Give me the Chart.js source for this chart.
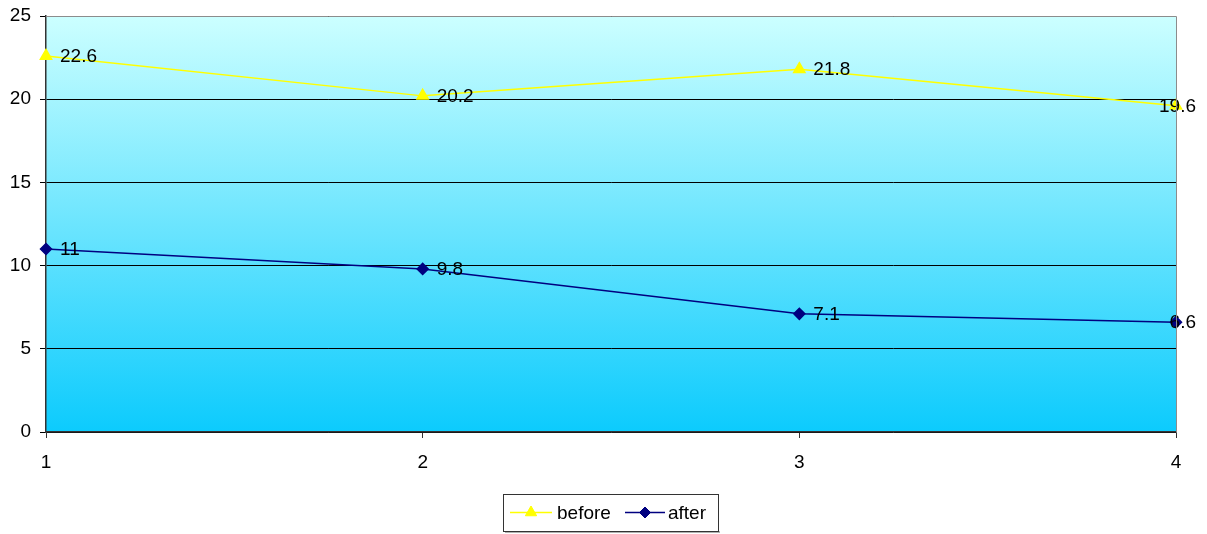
<!DOCTYPE html>
<html>
<head>
<meta charset="utf-8">
<script src="https://cdn.jsdelivr.net/npm/chart.js@4/dist/chart.umd.min.js"></script>
<style>
  html, body { margin: 0; padding: 0; background: #ffffff; }
  #wrap { width: 1207px; height: 534px; position: relative; }
</style>
</head>
<body>
<div id="wrap"><canvas id="c" width="1207" height="534"></canvas></div>
<script>
// Categories and series
const categories = ['1', '2', '3', '4'];
const beforeValues = [22.6, 20.2, 21.8, 19.6];
const afterValues = [11, 9.8, 7.1, 6.6];
const yTicks = [0, 5, 10, 15, 20, 25];

const FONT = '"Liberation Sans", Arial, sans-serif';
const TEXT_SIZE = 19;

// Sky gradient behind the plot area, plus grey top/right frame
const plotBackground = {
  id: 'plotBackground',
  beforeDraw(chart) {
    const { ctx, chartArea: a } = chart;
    const g = ctx.createLinearGradient(0, a.top, 0, a.bottom);
    g.addColorStop(0, '#ccffff');
    g.addColorStop(1, '#0ccbfd');
    ctx.save();
    ctx.fillStyle = g;
    ctx.fillRect(a.left, a.top, a.right - a.left, a.bottom - a.top);
    ctx.restore();
  },
  afterDraw(chart) {
    const { ctx, chartArea: a } = chart;
    ctx.save();
    ctx.strokeStyle = '#8c8c8c';
    ctx.lineWidth = 1;
    ctx.beginPath();
    ctx.moveTo(a.left, a.top + 0.5);
    ctx.lineTo(a.right + 0.5, a.top + 0.5);
    ctx.lineTo(a.right + 0.5, a.bottom);
    ctx.stroke();
    ctx.restore();
  }
};

// Value labels to the right of each point, kept inside the canvas edge
const valueLabels = {
  id: 'valueLabels',
  afterDatasetsDraw(chart) {
    const { ctx } = chart;
    const rightLimit = chart.width - 11;
    ctx.save();
    ctx.font = TEXT_SIZE + 'px ' + FONT;
    ctx.fillStyle = '#000000';
    ctx.textAlign = 'left';
    ctx.textBaseline = 'middle';
    chart.data.datasets.forEach((ds, i) => {
      const meta = chart.getDatasetMeta(i);
      meta.data.forEach((pt, j) => {
        const txt = String(ds.data[j]);
        const w = ctx.measureText(txt).width;
        const x = Math.min(pt.x + 14, rightLimit - w);
        ctx.fillText(txt, x, pt.y + 1);
      });
    });
    ctx.restore();
  }
};

// Boxed legend below the plot
const boxLegend = {
  id: 'boxLegend',
  afterDraw(chart) {
    const { ctx } = chart;
    const x0 = 503, y0 = 494, w = 215, h = 37;
    ctx.save();
    ctx.fillStyle = '#b0b0b0';
    ctx.fillRect(x0 + 2, y0 + h, w, 2);
    ctx.fillStyle = '#ffffff';
    ctx.fillRect(x0, y0, w, h);
    ctx.strokeStyle = '#333333';
    ctx.lineWidth = 1;
    ctx.strokeRect(x0 + 0.5, y0 + 0.5, w, h);
    const cy = y0 + 18.5;
    const items = [
      { ds: chart.data.datasets[0], x1: 510, x2: 552, tx: 557 },
      { ds: chart.data.datasets[1], x1: 625, x2: 665, tx: 668 }
    ];
    ctx.font = TEXT_SIZE + 'px ' + FONT;
    ctx.textBaseline = 'middle';
    ctx.textAlign = 'left';
    items.forEach(it => {
      ctx.strokeStyle = it.ds.borderColor;
      ctx.lineWidth = 1.5;
      ctx.beginPath();
      ctx.moveTo(it.x1, cy);
      ctx.lineTo(it.x2, cy);
      ctx.stroke();
      ctx.fillStyle = it.ds.pointBackgroundColor;
      ctx.strokeStyle = it.ds.pointBorderColor;
      ctx.lineWidth = 1;
      Chart.helpers.drawPoint(ctx, {
        pointStyle: it.ds.pointStyle,
        radius: it.ds.pointRadius,
        rotation: 0,
        borderWidth: 1
      }, (it.x1 + it.x2) / 2, cy);
      ctx.fillStyle = '#000000';
      ctx.fillText(it.ds.label, it.tx, cy + 1);
    });
    ctx.restore();
  }
};

new Chart(document.getElementById('c'), {
  type: 'line',
  data: {
    labels: categories,
    datasets: [
      {
        label: 'before',
        data: beforeValues,
        borderColor: '#ffff00',
        backgroundColor: '#ffff00',
        pointBackgroundColor: '#ffff00',
        pointBorderColor: '#ffff00',
        pointStyle: 'triangle',
        pointRadius: 6.5,
        borderWidth: 1.5,
        tension: 0
      },
      {
        label: 'after',
        data: afterValues,
        borderColor: '#000080',
        backgroundColor: '#000080',
        pointBackgroundColor: '#000080',
        pointBorderColor: '#000080',
        pointStyle: 'rectRot',
        pointRadius: 5.5,
        borderWidth: 1.5,
        tension: 0
      }
    ]
  },
  options: {
    responsive: false,
    animation: false,
    devicePixelRatio: 1,
    layout: { padding: { left: 0, right: 31, top: 16, bottom: 0 } },
    plugins: {
      legend: { display: false },
      tooltip: { enabled: false }
    },
    scales: {
      x: {
        type: 'category',
        offset: false,
        grid: {
          display: true,
          drawOnChartArea: false,
          drawTicks: true,
          tickLength: 6,
          color: '#333333'
        },
        border: { display: true, color: '#333333', width: 1.5 },
        ticks: {
          padding: 13,
          color: '#000000',
          font: { family: FONT, size: TEXT_SIZE },
          maxRotation: 0
        },
        afterFit(scale) {
          scale.height = 102;
          scale.paddingLeft = 0;
          scale.paddingRight = 0;
        }
      },
      y: {
        min: 0,
        max: 25,
        afterBuildTicks(scale) { scale.ticks = yTicks.map(v => ({ value: v })); },
        grid: {
          display: true,
          drawOnChartArea: true,
          drawTicks: true,
          tickLength: 6,
          color: '#000000',
          lineWidth: 1
        },
        border: { display: true, color: '#333333', width: 1.5 },
        ticks: {
          padding: 9,
          color: '#000000',
          font: { family: FONT, size: TEXT_SIZE }
        },
        afterFit(scale) {
          scale.width = 46;
          scale.paddingTop = 0;
          scale.paddingBottom = 0;
        }
      }
    }
  },
  plugins: [plotBackground, valueLabels, boxLegend]
});
</script>
</body>
</html>
